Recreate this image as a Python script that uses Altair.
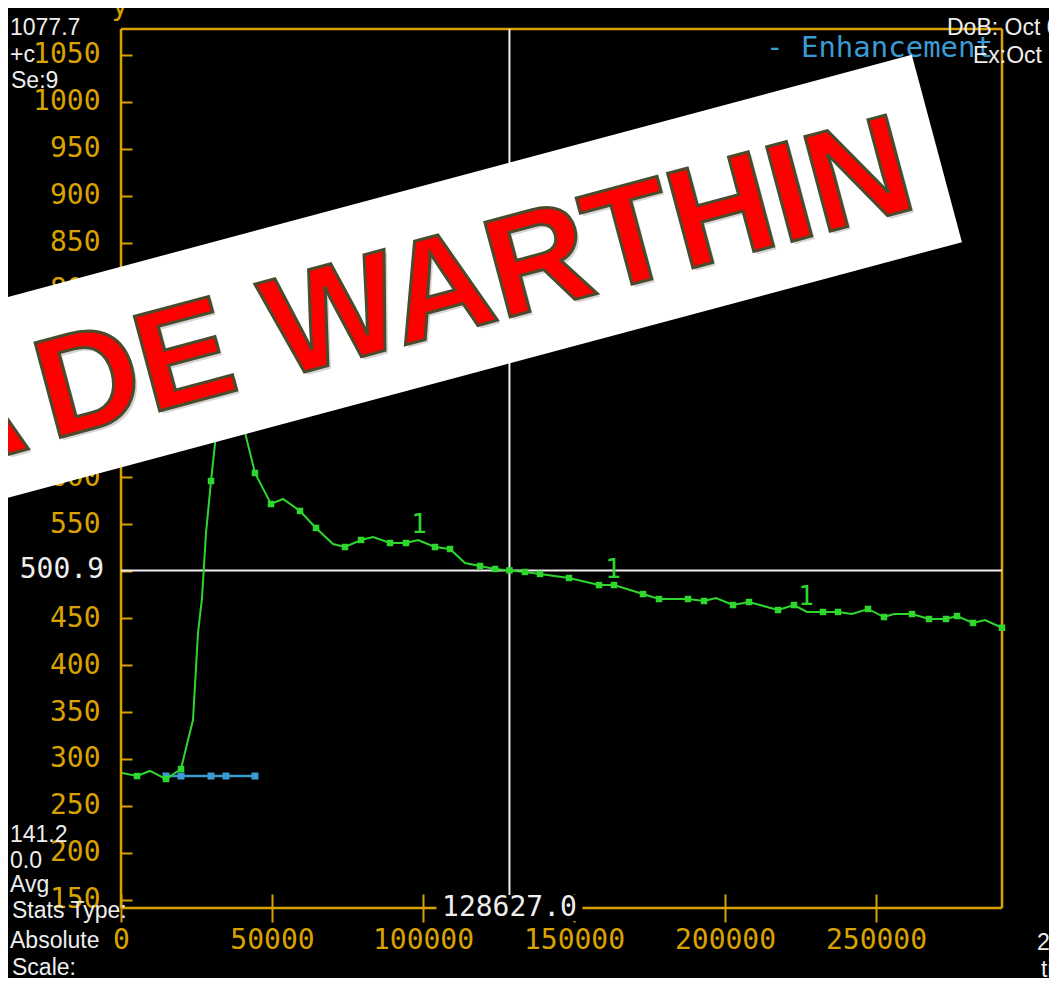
import altair as alt
import pandas as pd

# ---------------- data ----------------
curve_time = [331, 5298, 9603, 14900, 19868, 22186, 23841, 25497, 26821, 28146,
              29802, 34768, 39735, 44370, 49670, 53643, 59272, 64570, 70200, 74173,
              79471, 83445, 89074, 94372, 98345, 103975, 108942, 113909, 118876, 123843,
              128627, 133777, 138744, 148344, 158280, 163247, 172850, 178147, 187750, 193048,
              197022, 202650, 207948, 217551, 222849, 227153, 232451, 237418, 242053, 247351,
              252649, 255960, 261920, 267550, 273179, 276821, 282121, 286094, 291722]
curve_value = [285.0, 281.8, 287.2, 278.6, 289.3, 320.2, 341.5, 434.2, 471.5, 540.7,
               596.1, 745.0, 665.0, 604.7, 571.6, 577.0, 564.2, 546.1, 529.0, 525.8,
               533.3, 536.5, 530.1, 530.1, 533.3, 525.8, 523.7, 508.8, 505.6, 502.4,
               500.9, 499.2, 497.1, 492.8, 485.3, 485.3, 475.7, 470.4, 470.4, 468.3,
               471.5, 464.0, 467.2, 458.7, 464.0, 456.6, 456.6, 456.6, 454.4, 459.8,
               451.2, 454.4, 454.4, 449.1, 449.1, 452.3, 444.9, 448.0, 439.8]
curve_sampled = [0, 1, 0, 1, 1, 0, 0, 0, 0, 0,
                 1, 1, 1, 1, 1, 0, 1, 1, 0, 1,
                 1, 0, 1, 1, 0, 1, 1, 0, 1, 1,
                 1, 1, 1, 1, 1, 1, 1, 1, 1, 1,
                 0, 1, 1, 1, 1, 0, 1, 1, 0, 1,
                 1, 0, 1, 1, 1, 1, 1, 0, 1]

baseline_time = [14900, 19868, 29802, 34768, 44370]
baseline_value = [281.8, 281.8, 281.8, 281.8, 281.8]

series_label_time = [98677, 162916, 226824]
series_label_value = [549.3, 501.3, 472.5]
series_label_text = ["1", "1", "1"]

x_ticks = [0, 50000, 100000, 150000, 200000, 250000]
y_ticks = [150, 200, 250, 300, 350, 400, 450, 500, 550, 600, 650, 700, 750,
           800, 850, 900, 950, 1000, 1050]
x_min, x_max = 0.0, 291722.0
y_min, y_max = 141.2, 1077.7
cursor_time = 128627.0
cursor_value = 500.9

left_top_texts = ["1077.7", "+c", "Se:9"]
left_bottom_texts = ["141.2", "0.0", "Avg", "Stats Type:", "Absolute", "Scale:"]
right_texts = ["DoB: Oct 0", "Ex:Oct 2", "291722.0", "time"]
legend_text = "- Enhancement"
banner_words = ["A", "DE WARTHIN"]

# ---------------- styles ----------------
ORANGE = "#D9A200"
GREEN = "#2ED62E"
BLUE = "#3A9BD2"
WHITE = "#EEEEEE"
MONO = "DejaVu Sans Mono"
SANS = "Liberation Sans"

W, H = 881, 879

xs = alt.Scale(domain=[x_min, x_max], nice=False, zero=False)
ys = alt.Scale(domain=[y_min, y_max], nice=False, zero=False)

x_axis = alt.Axis(values=x_ticks, format="d", domain=False, grid=False, ticks=True,
                  tickSize=28, offset=-14, tickColor=ORANGE, tickWidth=2,
                  labelColor=ORANGE, labelFont=MONO, labelFontSize=28, labelPadding=4,
                  labelFlush=False, labelOverlap=False, title=None)
y_axis = alt.Axis(values=y_ticks, format="d",
                  labelExpr="datum.value == 500 ? '' : datum.label",
                  domain=False, grid=False, ticks=True, tickSize=11, offset=-11,
                  tickColor=ORANGE, tickWidth=2, labelColor=ORANGE, labelFont=MONO,
                  labelFontSize=28, labelPadding=21, labelFlush=False,
                  labelOverlap=False, title=None)


def X(field):
    return alt.X(field, type="quantitative", scale=xs, axis=x_axis)


def Y(field):
    return alt.Y(field, type="quantitative", scale=ys, axis=y_axis)


def note(text, x, y, color=WHITE, font=SANS, size=23, align="left",
         baseline="alphabetic", **kw):
    return alt.Chart(pd.DataFrame({"t": [text]})).mark_text(
        align=align, baseline=baseline, font=font, fontSize=size, color=color, **kw
    ).encode(x=alt.value(x), y=alt.value(y), text="t:N")


# ---------------- layers ----------------
frame_df = pd.DataFrame({
    "x": [x_min, x_min, x_min, x_max],
    "x2": [x_max, x_max, x_min, x_max],
    "y": [y_max, y_min, y_min, y_min],
    "y2": [y_max, y_min, y_max, y_max],
})
frame = alt.Chart(frame_df).mark_rule(color=ORANGE, strokeWidth=2.5).encode(
    x=X("x"), x2="x2", y=Y("y"), y2="y2")

cross_df = pd.DataFrame({
    "x": [cursor_time, x_min], "x2": [cursor_time, x_max],
    "y": [y_min, cursor_value], "y2": [y_max, cursor_value]})
cross = alt.Chart(cross_df).mark_rule(color=WHITE, strokeWidth=2).encode(
    x=X("x"), x2="x2", y=Y("y"), y2="y2")

base_df = pd.DataFrame({"t": baseline_time, "v": baseline_value})
blue_line = alt.Chart(base_df).mark_line(color=BLUE, strokeWidth=2.5).encode(
    x=X("t"), y=Y("v"))
blue_pts = alt.Chart(base_df).mark_square(color=BLUE, size=49, opacity=1).encode(
    x=X("t"), y=Y("v"))

curve_df = pd.DataFrame({"t": curve_time, "v": curve_value, "s": curve_sampled})
green_line = alt.Chart(curve_df).mark_line(color=GREEN, strokeWidth=2).encode(
    x=X("t"), y=Y("v"))
green_pts = alt.Chart(curve_df).transform_filter("datum.s == 1").mark_square(
    color=GREEN, size=42, opacity=1).encode(x=X("t"), y=Y("v"))

lab_df = pd.DataFrame({"t": series_label_time, "v": series_label_value,
                       "txt": series_label_text})
series_labels = alt.Chart(lab_df).mark_text(
    color=GREEN, font=MONO, fontSize=26, baseline="middle").encode(
    x=X("t"), y=Y("v"), text="txt:N")

RECT = "M-1,-0.178L1,-0.178L1,0.178L-1,0.178Z"
cur_df = pd.DataFrame({"t": [cursor_time], "v": [y_min],
                       "txt": [f"{cursor_time:.1f}"]})
cur_bg = alt.Chart(cur_df).mark_point(shape=RECT, filled=True, color="black",
                                      size=146 * 146, opacity=1, strokeWidth=0).encode(
    x=X("t"), y=Y("v"))
cur_x_label = alt.Chart(cur_df).mark_text(color=WHITE, font=MONO, fontSize=28,
                                          baseline="middle").encode(
    x=X("t"), y=Y("v"), text="txt:N")

cy_df = pd.DataFrame({"v": [cursor_value], "txt": [f"{cursor_value:.1f}"]})
cur_y_label = alt.Chart(cy_df).mark_text(color=WHITE, font=MONO, fontSize=28,
                                         baseline="middle", align="right").encode(
    x=alt.value(-17), y=Y("v"), text="txt:N")

legend = note(legend_text, 645, 28, color=BLUE, font=MONO, size=29)
y_title = note("y", -1, -14, color=ORANGE, font=MONO, size=28, align="center")

# banner (rotated white strip with red lettering)
BANNER = "M-1,-0.1492L1,-0.1492L1,0.1492L-1,0.1492Z"
banner = alt.Chart(pd.DataFrame({"a": [0]})).mark_point(
    shape=BANNER, filled=True, color="white", size=1300 * 1300, opacity=1,
    strokeWidth=0, angle=345).encode(x=alt.value(188), y=alt.value(287.7))


def banner_text(text, x, y):
    shadow = note(text, x + 3, y + 3, color="#888888", font=SANS, size=142,
                  align="right", angle=345, fontWeight="bold", opacity=0.35)
    word = note(text, x, y, color="#FF0000", font=SANS, size=142,
                align="right", angle=345, fontWeight="bold",
                stroke="#4A4A2C", strokeWidth=3)
    return [shadow, word]


banner_layers = banner_text(banner_words[0], -89, 419) + \
    banner_text(banner_words[1], 799, 178)

texts = [
    note(left_top_texts[0], -111, 6),
    note(left_top_texts[1], -111, 33),
    note(left_top_texts[2], -110, 59),
    note(left_bottom_texts[0], -111, 813),
    note(left_bottom_texts[1], -111, 839),
    note(left_bottom_texts[2], -111, 863),
    note(left_bottom_texts[3], -109, 889),
    note(left_bottom_texts[4], -111, 919),
    note(left_bottom_texts[5], -109, 946),
    note(right_texts[0], 826, 6),
    note(right_texts[1], 852, 34),
    note(right_texts[2], 916, 921),
    note(right_texts[3], 920, 948),
]

chart = alt.layer(
    frame, cross, blue_line, blue_pts, green_line, green_pts, series_labels,
    cur_bg, cur_x_label, cur_y_label, legend, y_title,
    banner, *banner_layers, *texts
).properties(
    width=W, height=H,
    padding={"left": 113, "top": 21, "right": 47, "bottom": 70},
    autosize=alt.AutoSizeParams(type="none"),
    background="black",
).configure_view(stroke=None)

chart.save("out.html", embed_options={"renderer": "svg", "actions": False})
